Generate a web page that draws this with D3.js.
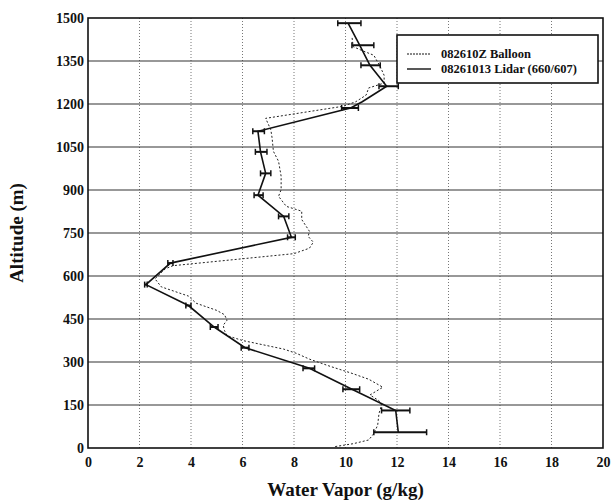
<!doctype html>
<head>
<style>
  body { margin: 0; background: #fff; }
  svg text { font-family: "Liberation Serif", "Times New Roman", serif; font-weight: bold; fill: #111; }
</style>
<script src="https://cdnjs.cloudflare.com/ajax/libs/d3/7.8.5/d3.min.js"></script>
</head>
<body>
<script>
// tick values
var xTicks = [0, 2, 4, 6, 8, 10, 12, 14, 16, 18, 20];
var yTicks = [0, 150, 300, 450, 600, 750, 900, 1050, 1200, 1350, 1500];

// 08261013 Lidar (660/607): altitude, water vapor, error bar low/high
var lidarAlt = [1482, 1405, 1335, 1262, 1208, 1186, 1105, 1033, 958, 882, 808, 735, 645, 570, 497, 422, 350, 278, 205, 131, 55];
var lidarWv  = [10.1, 10.55, 10.95, 11.6, 10.65, 10.2, 6.6, 6.7, 6.9, 6.6, 7.6, 7.9, 3.2, 2.25, 3.9, 4.9, 6.1, 8.6, 10.25, 11.95, 12.05];
var lidarLo  = [9.7, 10.25, 10.6, 11.3, null, 9.85, 6.4, 6.5, 6.7, 6.45, 7.4, 7.75, 3.1, 2.2, 3.8, 4.75, 5.95, 8.35, 9.9, 11.4, 11.1];
var lidarHi  = [10.6, 11.1, 11.35, 12.05, null, 10.5, 6.85, 6.95, 7.1, 6.8, 7.8, 8.05, 3.3, 2.3, 4.0, 5.05, 6.25, 8.8, 10.55, 12.5, 13.15];

// 082610Z Balloon
var balloonAlt = [5, 15, 28, 50, 80, 120, 150, 165, 185, 212, 240, 262, 285, 310, 330, 345, 375, 392, 410, 428, 446, 465, 480, 505, 530, 562, 590, 625, 636, 678, 697, 718, 738, 756, 797, 826, 843, 878, 901, 948, 1000, 1035, 1081, 1110, 1150, 1192, 1208, 1231, 1256, 1273, 1300, 1330, 1370, 1388, 1400, 1435];
var balloonWv  = [9.6, 10.3, 10.9, 11.1, 11.25, 11.3, 11.4, 11.3, 10.95, 11.45, 10.9, 10.2, 9.4, 8.6, 8.1, 7.6, 6.0, 5.4, 5.3, 5.25, 5.4, 5.3, 5.0, 4.2, 3.9, 2.85, 2.6, 3.0, 3.3, 8.0, 8.6, 8.75, 8.55, 8.6, 8.3, 8.3, 7.7, 7.4, 7.5, 7.5, 7.4, 7.2, 7.15, 7.1, 6.9, 9.9, 10.4, 10.8, 10.9, 11.5, 11.5, 11.35, 11.1, 10.6, 10.3, 10.25];

var legendNames = ["082610Z Balloon", "08261013 Lidar (660/607)"];

var W = 614, H = 500;
var pL = 88, pR = 603, pT = 18, pB = 448;

var svg = d3.select("body").append("svg")
  .attr("width", W)
  .attr("height", H);

var x = d3.scaleLinear().domain([0, 20]).range([pL, pR]);
var y = d3.scaleLinear().domain([0, 1500]).range([pB, pT]);

// grid
svg.append("g").selectAll("line")
  .data(xTicks.slice(1, -1)).enter()
  .append("line")
    .attr("x1", d => x(d)).attr("x2", d => x(d))
    .attr("y1", pT).attr("y2", pB)
    .attr("stroke", "#777")
    .attr("stroke-width", 1)
    .attr("stroke-dasharray", "1,2");

svg.append("g").selectAll("line")
  .data(yTicks.slice(1, -1)).enter()
  .append("line")
    .attr("x1", pL).attr("x2", pR)
    .attr("y1", d => y(d)).attr("y2", d => y(d))
    .attr("stroke", "#333")
    .attr("stroke-width", 1.2);

// axes (labels only)
var xAxis = d3.axisBottom(x).tickValues(xTicks).tickFormat(d3.format("d")).tickSize(0).tickPadding(9);
var yAxis = d3.axisLeft(y).tickValues(yTicks).tickFormat(d3.format("d")).tickSize(0).tickPadding(4);

var gx = svg.append("g").attr("transform", "translate(0," + pB + ")").call(xAxis);
var gy = svg.append("g").attr("transform", "translate(" + pL + ",0)").call(yAxis);
[gx, gy].forEach(function(g) {
  g.select(".domain").remove();
  g.selectAll("text")
    .style("font-family", '"Liberation Serif", serif')
    .style("font-weight", "bold")
    .style("font-size", "14px")
    .attr("fill", "#111");
});

// frame
svg.append("rect")
  .attr("x", pL).attr("y", pT)
  .attr("width", pR - pL).attr("height", pB - pT)
  .attr("fill", "none")
  .attr("stroke", "#111")
  .attr("stroke-width", 1.6);

// balloon
var balloon = balloonAlt.map((a, i) => [balloonWv[i], a]);
svg.append("path")
  .datum(balloon)
  .attr("d", d3.line().x(d => x(d[0])).y(d => y(d[1])))
  .attr("fill", "none")
  .attr("stroke", "#222")
  .attr("stroke-width", 1)
  .attr("stroke-dasharray", "2,2");

// lidar
var lidar = lidarAlt.map((a, i) => ({ alt: a, wv: lidarWv[i], lo: lidarLo[i], hi: lidarHi[i] }));
svg.append("path")
  .datum(lidar)
  .attr("d", d3.line().x(d => x(d.wv)).y(d => y(d.alt)))
  .attr("fill", "none")
  .attr("stroke", "#111")
  .attr("stroke-width", 1.6);

var bars = svg.append("g").selectAll("g")
  .data(lidar.filter(d => d.lo != null)).enter()
  .append("g");
bars.append("line")
  .attr("x1", d => x(d.lo)).attr("x2", d => x(d.hi))
  .attr("y1", d => y(d.alt)).attr("y2", d => y(d.alt))
  .attr("stroke", "#111").attr("stroke-width", 2);
bars.append("line")
  .attr("x1", d => x(d.lo)).attr("x2", d => x(d.lo))
  .attr("y1", d => y(d.alt) - 3).attr("y2", d => y(d.alt) + 3)
  .attr("stroke", "#111").attr("stroke-width", 1.5);
bars.append("line")
  .attr("x1", d => x(d.hi)).attr("x2", d => x(d.hi))
  .attr("y1", d => y(d.alt) - 3).attr("y2", d => y(d.alt) + 3)
  .attr("stroke", "#111").attr("stroke-width", 1.5);

// legend
var lg = svg.append("g");
lg.append("rect")
  .attr("x", 397).attr("y", 35)
  .attr("width", 201).attr("height", 48)
  .attr("fill", "#fff")
  .attr("stroke", "#111")
  .attr("stroke-width", 1.6);
legendNames.forEach(function(name, i) {
  var ly = 54 + i * 15;
  lg.append("line")
    .attr("x1", 407).attr("x2", 431)
    .attr("y1", ly).attr("y2", ly)
    .attr("stroke", "#111")
    .attr("stroke-width", i == 0 ? 1 : 1.4)
    .attr("stroke-dasharray", i == 0 ? "2,1" : null);
  lg.append("text")
    .attr("x", 441).attr("y", ly + 4)
    .style("font-size", "12.5px")
    .text(name);
});

// titles
svg.append("text")
  .attr("x", (pL + pR) / 2).attr("y", 496)
  .attr("text-anchor", "middle")
  .style("font-size", "19px")
  .text("Water Vapor (g/kg)");

svg.append("text")
  .attr("transform", "translate(23," + ((pT + pB) / 2) + ") rotate(-90)")
  .attr("text-anchor", "middle")
  .style("font-size", "19px")
  .text("Altitude (m)");
</script>
</body>
